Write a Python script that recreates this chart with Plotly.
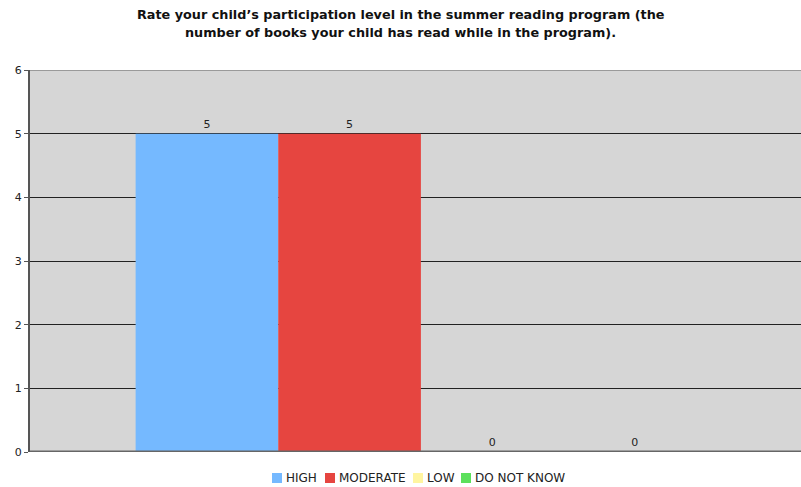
import plotly.graph_objects as go

# Survey responses: count of respondents per participation level
categories = [""]
levels = ["HIGH", "MODERATE", "LOW", "DO NOT KNOW"]
counts = [5, 5, 0, 0]
colors = ["#75B9FF", "#E64540", "#FFF5A0", "#5CE05C"]
y_ticks = [0, 1, 2, 3, 4, 5, 6]

title_lines = ["Rate your child\u2019s participation level in the summer reading program (the",
               "number of books your child has read while in the program)."]

FONT = "DejaVu Sans"
W, H = 801, 487
PL, PR, PT, PB = 30, 801, 70, 452   # plot area edges in pixels


def px_x(x):
    return (x - PL) / (PR - PL)


def px_y(y):
    return (PB - y) / (PB - PT)


fig = go.Figure()
for name, val, col in zip(levels, counts, colors):
    fig.add_trace(go.Bar(
        x=categories, y=[val], name=name,
        marker=dict(color=col, line=dict(width=0)),
        text=[str(val)], textposition="outside",
        textfont=dict(family=FONT, size=11, color="#222222"),
        cliponaxis=False, showlegend=False,
    ))

fig.update_layout(
    width=W, height=H,
    margin=dict(l=PL, r=W - PR, t=PT, b=H - PB, autoexpand=False),
    paper_bgcolor="white",
    plot_bgcolor="#D6D6D6",
    barmode="group",
    bargap=0.26,
    bargroupgap=0,
    font=dict(family=FONT, size=11, color="#222222"),
    showlegend=False,
    xaxis=dict(
        range=[-0.507, 0.493],
        showticklabels=False, ticks="",
        showgrid=False, zeroline=False,
        showline=False,
    ),
    yaxis=dict(
        range=[0, 6],
        tickvals=y_ticks,
        ticks="outside", ticklen=4, tickcolor="#555555",
        showgrid=True, gridcolor="#222222", gridwidth=1,
        zeroline=False,
        showline=True, linecolor="#555555", linewidth=2,
        tickfont=dict(family=FONT, size=11, color="#222222"),
    ),
)

# Two-line bold title
for line, yc in zip(title_lines, [14, 32]):
    fig.add_annotation(text="<b>" + line + "</b>", xref="paper", yref="paper",
                       x=px_x(W / 2), y=px_y(yc), xanchor="center", yanchor="middle",
                       showarrow=False,
                       font=dict(family=FONT, size=12.8, color="#111111"))

# Bottom axis line and lighter top border of the plot area
fig.add_shape(type="line", xref="paper", yref="y", x0=0, x1=1, y0=0, y1=0,
              line=dict(color="#666666", width=3), layer="above")
fig.add_shape(type="line", xref="paper", yref="y", x0=0, x1=1, y0=6, y1=6,
              line=dict(color="#9A9A9A", width=2), layer="above")

# Compact legend row below the plot: colour swatch followed by its label
legend_x = [272, 325, 413, 461]   # swatch left edges, in pixels
legend_y = 478                    # row centre, in pixels
sw = 10
for name, col, x0 in zip(levels, colors, legend_x):
    fig.add_shape(type="rect", xref="paper", yref="paper",
                  x0=px_x(x0), x1=px_x(x0 + sw),
                  y0=px_y(legend_y + sw / 2), y1=px_y(legend_y - sw / 2),
                  fillcolor=col, line=dict(width=0))
    fig.add_annotation(text=name, xref="paper", yref="paper",
                       x=px_x(x0 + sw + 2), y=px_y(legend_y),
                       xanchor="left", yanchor="middle", showarrow=False,
                       font=dict(family=FONT, size=12, color="#222222"))

fig.write_html("out.html")
